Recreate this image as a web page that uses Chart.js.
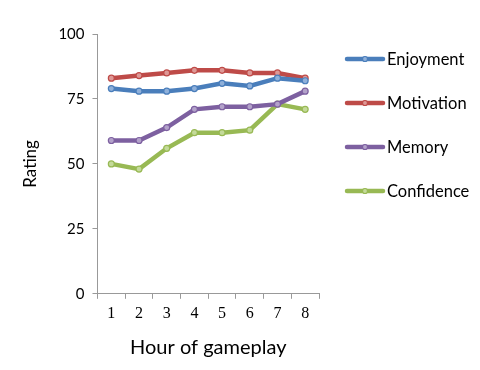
<!DOCTYPE html>
<html>
<head>
<meta charset="utf-8">
<script src="https://cdn.jsdelivr.net/npm/chart.js@4.4.1/dist/chart.umd.min.js"></script>
<style>
html,body{margin:0;padding:0;background:#fff;}
#wrap{width:480px;height:370px;}
</style>
</head>
<body>
<div id="wrap"><canvas id="c" width="480" height="370"></canvas></div>
<script>
const hours = ['1','2','3','4','5','6','7','8'];
const enjoyment = [79, 78, 78, 79, 81, 80, 83, 82];
const motivation = [83, 84, 85, 86, 86, 85, 85, 83];
const memory = [59, 59, 64, 71, 72, 72, 73, 78];
const confidence = [50, 48, 56, 62, 62, 63, 73, 71];
const yTicks = [0, 25, 50, 75, 100];

const seriesNames = ['Enjoyment', 'Motivation', 'Memory', 'Confidence'];
const lineColors = ['#4A7EBB', '#BE4B48', '#7D60A0', '#98B954'];
const pointFills = ['#8FB0DA', '#DE9896', '#B3A2CA', '#C4DA9A'];
const seriesData = [enjoyment, motivation, memory, confidence];

const sansFont = 'Lato, "Open Sans", sans-serif';

const legendPlugin = {
  id: 'sideLegend',
  afterDraw(chart) {
    const ctx = chart.ctx;
    const x0 = chart.chartArea.right + 28;
    chart.data.datasets.forEach((ds, i) => {
      const y = 59 + 44 * i;
      ctx.save();
      ctx.strokeStyle = ds.borderColor;
      ctx.lineWidth = 4.5;
      ctx.lineCap = 'round';
      ctx.beginPath();
      ctx.moveTo(x0, y);
      ctx.lineTo(x0 + 36, y);
      ctx.stroke();
      ctx.beginPath();
      ctx.fillStyle = ds.pointBackgroundColor;
      ctx.lineWidth = 1.2;
      ctx.arc(x0 + 18, y, 2.5, 0, Math.PI * 2);
      ctx.fill();
      ctx.stroke();
      ctx.fillStyle = '#000';
      ctx.font = '16.5px ' + sansFont;
      ctx.textBaseline = 'middle';
      ctx.fillText(ds.label, x0 + 40, y + 1);
      ctx.restore();
    });
  }
};

new Chart(document.getElementById('c'), {
  type: 'line',
  data: {
    labels: hours,
    datasets: seriesNames.map((n, i) => ({
      label: n,
      data: seriesData[i],
      borderColor: lineColors[i],
      backgroundColor: lineColors[i],
      pointBackgroundColor: pointFills[i],
      pointBorderColor: lineColors[i],
      borderWidth: 4.5,
      pointRadius: 3,
      pointBorderWidth: 1.2,
      tension: 0,
      fill: false
    }))
  },
  options: {
    responsive: false,
    animation: false,
    layout: { padding: { top: 34, right: 161, left: 16, bottom: 6 } },
    plugins: { legend: { display: false }, tooltip: { enabled: false } },
    scales: {
      x: {
        offset: true,
        grid: { offset: true, drawOnChartArea: false, drawTicks: true, tickLength: 5, color: '#999' },
        border: { color: '#999', width: 1 },
        ticks: { color: '#000', font: { family: '"Liberation Serif", serif', size: 16 }, padding: 5 },
        title: { display: true, text: 'Hour of gameplay', color: '#000', font: { family: sansFont, size: 20 }, padding: { top: 8 } }
      },
      y: {
        min: 0, max: 100,
        afterBuildTicks: (axis) => { axis.ticks = yTicks.map(v => ({ value: v })); },
        grid: { drawOnChartArea: false, drawTicks: true, tickLength: 5, color: '#999' },
        border: { color: '#999', width: 1 },
        ticks: { color: '#000', font: { family: sansFont, size: 15 }, padding: 8 },
        title: { display: true, text: 'Rating', color: '#000', font: { family: sansFont, size: 17 }, padding: { bottom: 10 } }
      }
    }
  },
  plugins: [legendPlugin]
});
</script>
</body>
</html>
